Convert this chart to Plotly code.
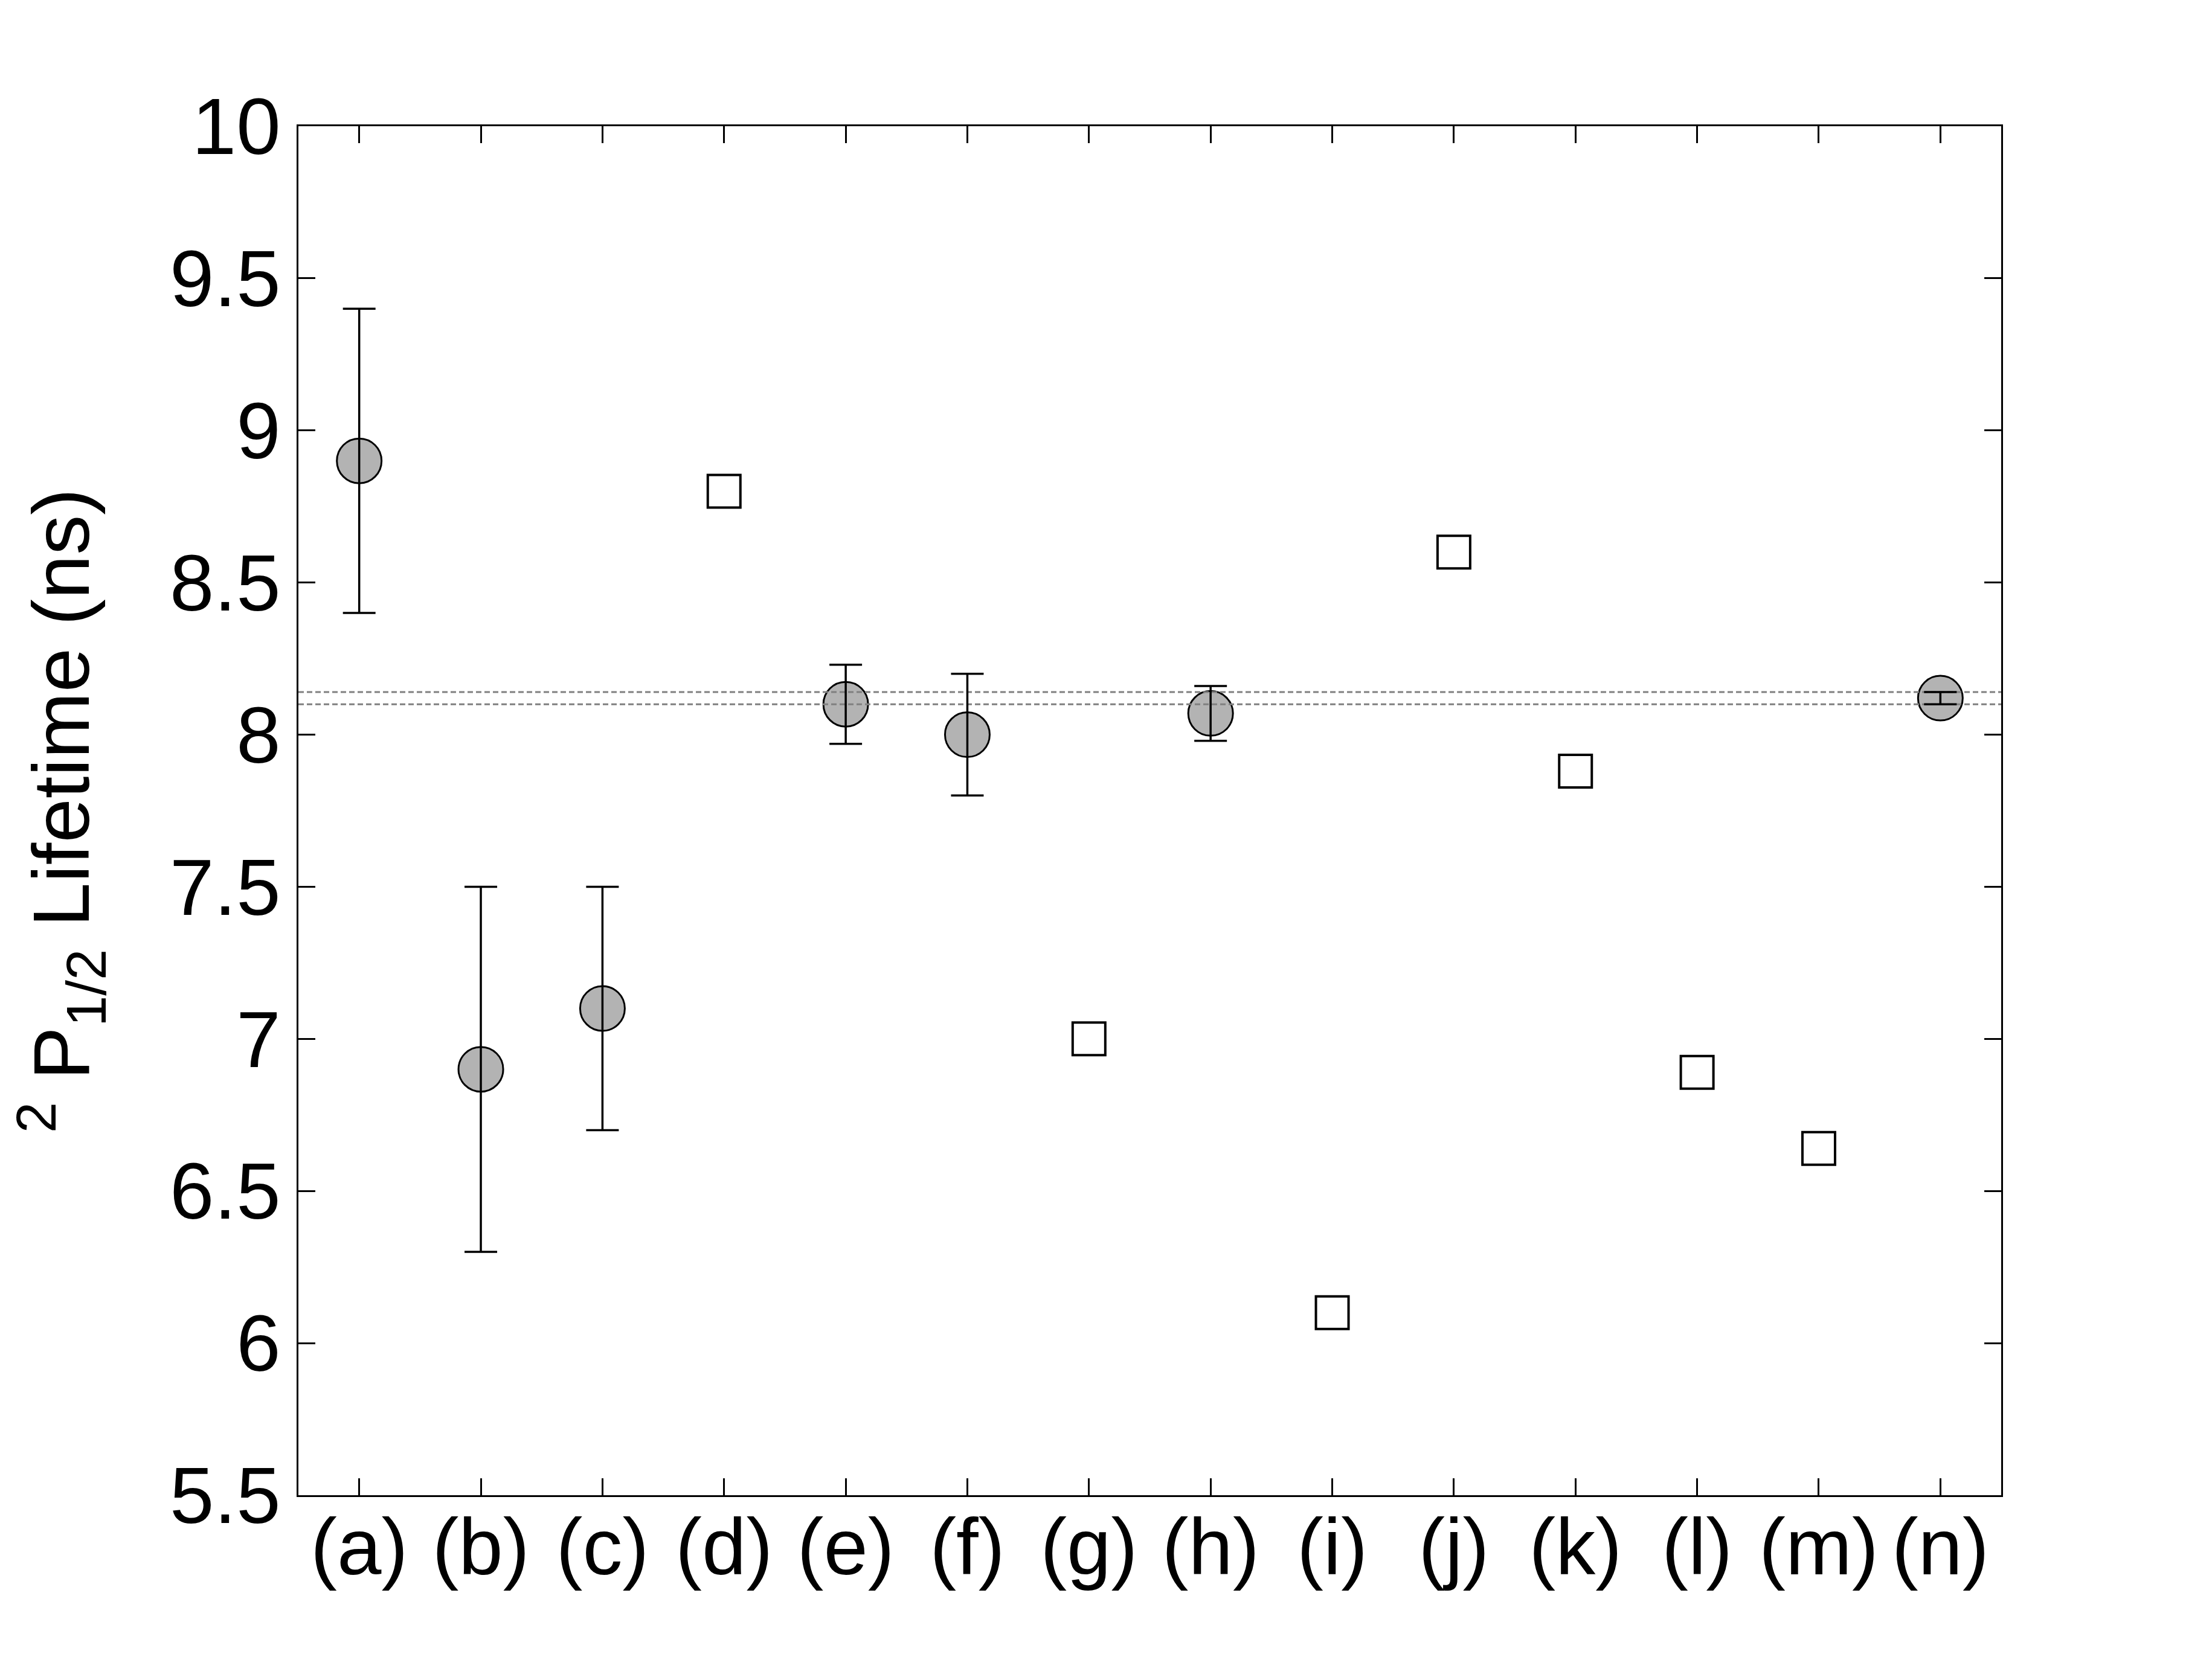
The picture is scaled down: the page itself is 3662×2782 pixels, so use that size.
import plotly.graph_objects as go

# Labels of the measurements along the x axis
labels = ["(a)", "(b)", "(c)", "(d)", "(e)", "(f)", "(g)",
          "(h)", "(i)", "(j)", "(k)", "(l)", "(m)", "(n)"]

# Experiments (filled circles with error bars)
exp_labels = ["(a)", "(b)", "(c)", "(e)", "(f)", "(h)", "(n)"]
exp_values = [8.9, 6.9, 7.1, 8.10, 8.0, 8.07, 8.12]
exp_errors = [0.5, 0.6, 0.4, 0.13, 0.2, 0.09, 0.02]

# Theory (open squares)
theo_labels = ["(d)", "(g)", "(i)", "(j)", "(k)", "(l)", "(m)"]
theo_values = [8.8, 7.0, 6.1, 8.6, 7.88, 6.89, 6.64]

# Band of this work's result (dashed lines)
band = [8.10, 8.14]

y_ticks = [5.5, 6, 6.5, 7, 7.5, 8, 8.5, 9, 9.5, 10]

pos = {lab: i for i, lab in enumerate(labels)}
exp_x = [pos[l] for l in exp_labels]
theo_x = [pos[l] for l in theo_labels]
x_lo, x_hi = -0.5, len(labels) - 0.5

font = "Liberation Sans, Arial, sans-serif"

fig = go.Figure()

fig.add_trace(go.Scatter(
    x=exp_x, y=exp_values, mode="markers",
    marker=dict(symbol="circle", size=74, color="#b3b3b3",
                line=dict(color="black", width=3)),
))
fig.add_trace(go.Scatter(
    x=theo_x, y=theo_values, mode="markers",
    marker=dict(symbol="square", size=54, color="white",
                line=dict(color="black", width=4)),
))

# dashed reference lines
for b in band:
    fig.add_trace(go.Scatter(
        x=[x_lo, x_hi], y=[b, b], mode="lines",
        line=dict(color="#808080", width=3, dash="9px,5px"),
    ))

# error bars on top of the circles
fig.add_trace(go.Scatter(
    x=exp_x, y=exp_values, mode="markers",
    marker=dict(size=1, color="rgba(0,0,0,0)"),
    error_y=dict(type="data", array=exp_errors, visible=True,
                 color="black", thickness=3.5, width=27),
))

# page body adds an 8px offset, so margins are trimmed by that much
fig.update_layout(
    width=3646, height=2766,
    margin=dict(l=486, r=341, t=201, b=298),
    plot_bgcolor="white", paper_bgcolor="white",
    showlegend=False,
    font=dict(family=font, size=132, color="black"),
)

fig.update_xaxes(
    range=[x_lo, x_hi], tickvals=list(range(len(labels))), ticktext=labels,
    showgrid=False, zeroline=False,
    showline=True, linecolor="black", linewidth=3, mirror="ticks",
    ticks="inside", ticklen=28, tickwidth=3, tickcolor="black",
    tickfont=dict(size=132), ticklabelstandoff=-30,
)
fig.update_yaxes(
    range=[5.5, 10], tickvals=y_ticks,
    showgrid=False, zeroline=False,
    showline=True, linecolor="black", linewidth=3, mirror="ticks",
    ticks="inside", ticklen=28, tickwidth=3, tickcolor="black",
    tickfont=dict(size=132),
    title=dict(text="<sup>2</sup> P<sub>1/2</sub> Lifetime (ns)",
               font=dict(size=132), standoff=105),
)

fig.write_html("out.html")
